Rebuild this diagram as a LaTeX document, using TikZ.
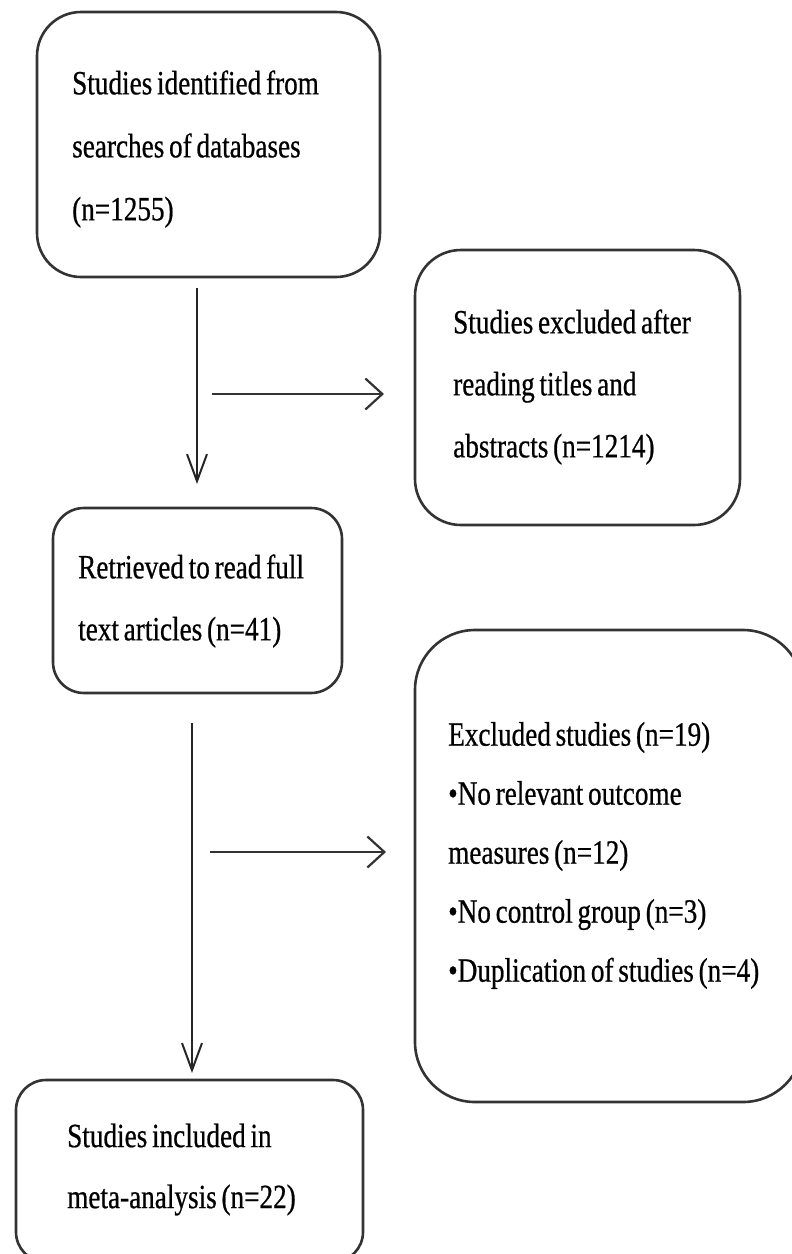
\documentclass[tikz,border=0pt]{standalone}
\usepackage{fontspec}
\setmainfont{Liberation Serif}[FakeStretch=0.8,WordSpace=0.7,FakeBold=0.6]
\usetikzlibrary{arrows.meta}
\begin{document}
\begin{tikzpicture}[x=1pt,y=-1pt,
  box/.style={draw=black!80, line width=2.6pt, rounded corners=#1, inner sep=0pt},
  txt/.style={anchor=west, align=left, inner sep=0pt, font=\fontsize{34pt}{62pt}\selectfont},
  vflow/.style={draw=black!85, line width=2pt, -{Straight Barb[length=27pt,width=20pt,line width=2pt]}},
  hflow/.style={draw=black!80, line width=2.6pt, -{Straight Barb[length=17pt,width=31pt,line width=2.2pt]}}]
\useasboundingbox (0,0) rectangle (792,1254);
% boxes
\node[box=44pt, minimum width=343pt, minimum height=265pt] (A) at (208.5,144.5) {};
\node[box=46pt, minimum width=325pt, minimum height=275pt] (B) at (577.5,387.5) {};
\node[box=31pt, minimum width=289pt, minimum height=185pt] (C) at (197.5,600.5) {};
\node[box=60pt, minimum width=388pt, minimum height=472pt] (D) at (609,866) {};
\node[box=30pt, minimum width=347pt, minimum height=182pt] (E) at (189.5,1171) {};
% texts
\node[txt, font=\fontsize{34pt}{63pt}\selectfont] (At) at (72,149) {Studies identified from\\searches of databases\\(n=1255)};
\node[txt] (Bt) at (453,387) {Studies excluded after\\reading titles and\\abstracts (n=1214)};
\node[txt] (Ct) at (78,601) {Retrieved to read full\\text articles (n=41)};
\node[txt, font=\fontsize{34pt}{59pt}\selectfont] (Dt) at (448,855.5) {Excluded studies (n=19)\\•No relevant outcome\\measures (n=12)\\•No control group (n=3)\\•Duplication of studies (n=4)};
\node[txt, font=\fontsize{34pt}{61pt}\selectfont] (Et) at (67,1169.5) {Studies included in\\meta-analysis (n=22)};
% arrows
\coordinate (a1s) at (197,288); \coordinate (a1e) at (197,484);
\coordinate (h1s) at (212,394); \coordinate (h1e) at (384,394);
\coordinate (a2s) at (192,723); \coordinate (a2e) at (192,1073);
\coordinate (h2s) at (210,852); \coordinate (h2e) at (386,852);
\draw[vflow] (a1s) -- (a1e);
\draw[hflow] (h1s) -- (h1e);
\draw[vflow] (a2s) -- (a2e);
\draw[hflow] (h2s) -- (h2e);
\end{tikzpicture}
\end{document}
